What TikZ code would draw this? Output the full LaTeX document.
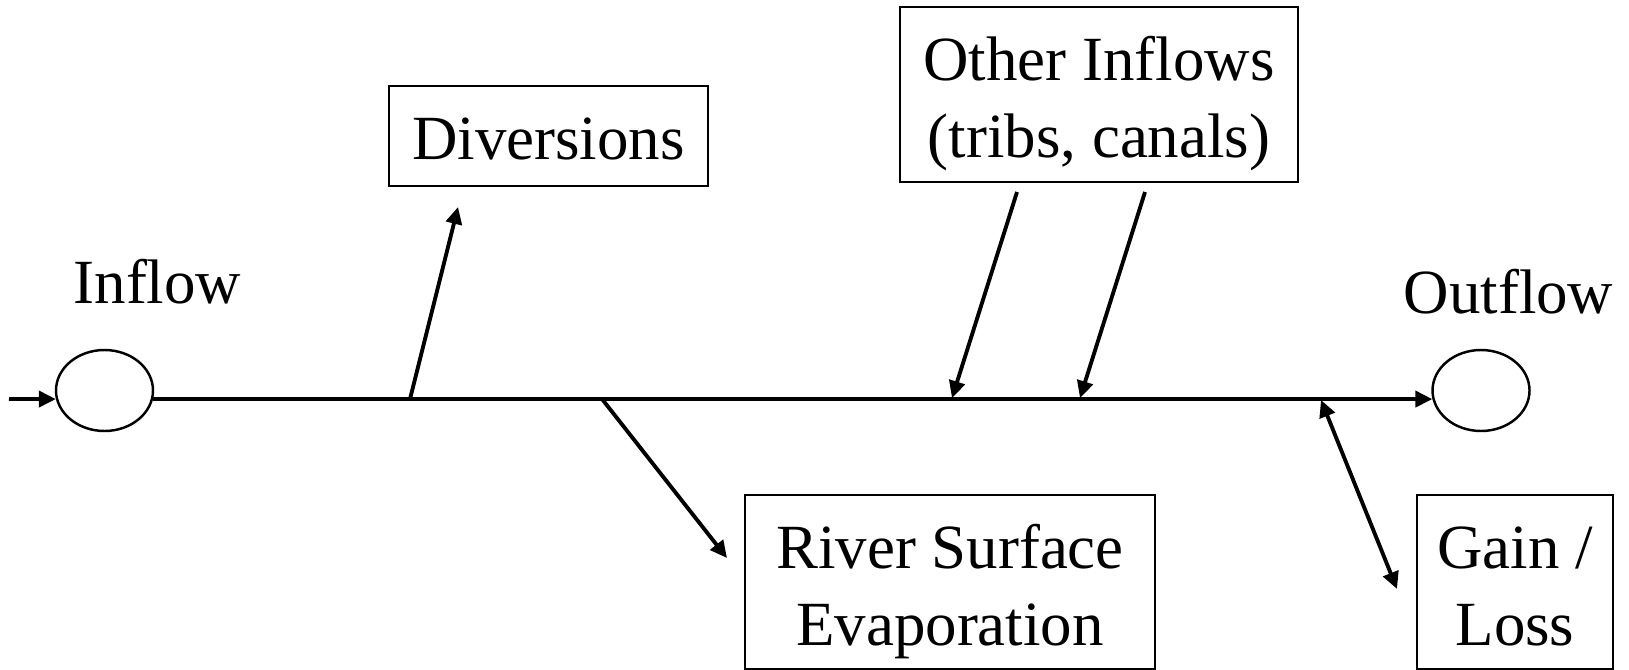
\documentclass[tikz,border=0pt]{standalone}
\usepackage{fontspec}
\setmainfont{Liberation Serif}
\usetikzlibrary{arrows.meta,shapes.geometric}

\newcommand\reachfont{\fontsize{17.9pt}{21.9pt}\selectfont}

\tikzset{
  flowbox/.style={draw, line width=0.5pt, align=center, inner sep=0pt,
    text height=0.73cm, text depth=0.27cm, anchor=base},
  twoline/.style={text height=1.50cm, text depth=0.24cm},
  junction/.style={draw, ellipse, line width=0.7pt, inner sep=0pt,
    minimum width=0.97cm, minimum height=0.81cm},
  flow/.style={line width=1.1pt, -{Triangle[length=1.7mm,width=1.6mm]}},
  twoway/.style={line width=1.1pt, {Triangle[length=1.7mm,width=1.6mm]}-{Triangle[length=1.7mm,width=1.6mm]}}
}

\begin{document}
\begin{tikzpicture}[every node/.style={font=\reachfont}]
    \useasboundingbox (0,0) rectangle (16.29,6.69);
    % reach ends
    \node[junction] (inflow) at (1.045,2.785) {};
    \node[junction] (outflow) at (14.81,2.785) {};
    \node[anchor=base] (inlabel) at (1.575,3.66) {Inflow};
    \node[anchor=base] (outlabel) at (15.085,3.56) {Outflow};
    \coordinate (source) at (0.09,2.70);
    \draw[flow] (source) -- (inflow.190);
    \draw[flow] (inflow.-10) -- (outflow.190);
    % boxes
    \node[flowbox, minimum width=3.19cm] (divert) at (5.485,5.10) {Diversions};
    \node[flowbox, twoline, minimum width=3.98cm, text depth=0.25cm] (others) at (10.99,5.12) {Other Inflows\\(tribs, canals)};
    \node[flowbox, twoline, minimum width=4.10cm] (evap) at (9.50,0.24) {River Surface\\Evaporation};
    \node[flowbox, twoline, minimum width=1.96cm] (gain) at (15.15,0.24) {Gain /\\Loss};
    % diversions
    \coordinate (divfoot) at (4.10,2.70);
    \coordinate (divhead) at (4.58,4.62);
    \draw[flow] (divfoot) -- (divhead);
    % evaporation
    \coordinate (evapfoot) at (6.02,2.70);
    \coordinate (evaphead) at (7.27,1.11);
    \draw[flow] (evapfoot) -- (evaphead);
    % tribs and canals
    \coordinate (tribtail) at (10.17,4.77);
    \coordinate (tribhead) at (9.52,2.71);
    \draw[flow] (tribtail) -- (tribhead);
    \coordinate (canaltail) at (11.45,4.77);
    \coordinate (canalhead) at (10.80,2.71);
    \draw[flow] (canaltail) -- (canalhead);
    % gain / loss
    \coordinate (gaintop) at (13.21,2.69);
    \coordinate (gainfoot) at (13.97,0.80);
    \draw[twoway] (gaintop) -- (gainfoot);
\end{tikzpicture}
\end{document}
